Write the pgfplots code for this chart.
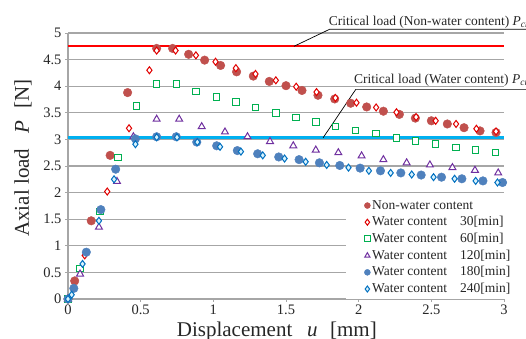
\documentclass[border=0pt]{standalone}
\usepackage{fontspec}
\setmainfont{Liberation Serif}
\usepackage{pgfplots}
\pgfplotsset{compat=1.18}
\definecolor{nwred}{RGB}{192,80,77}
\definecolor{wthirty}{RGB}{225,0,0}
\definecolor{wsixty}{RGB}{0,176,80}
\definecolor{wonetwenty}{RGB}{112,48,160}
\definecolor{woneeighty}{RGB}{79,129,189}
\definecolor{wtwoforty}{RGB}{0,112,192}
\definecolor{critblue}{RGB}{0,176,240}
\definecolor{gridgray}{RGB}{166,166,166}
\newcommand{\sm}{\fontsize{13.5bp}{15bp}\selectfont}
\begin{document}
\begin{tikzpicture}[x=1bp,y=1bp]
\begin{axis}[
  at={(68bp,39bp)}, anchor=south west,
  width=436bp, height=266bp, scale only axis,
  xmin=0, xmax=3, ymin=0, ymax=5,
  xtick={0,0.5,1,1.5,2,2.5,3},
  ytick={0,0.5,1,1.5,2,2.5,3,3.5,4,4.5,5},
  axis lines*=left,
  axis line style={gridgray, line width=1.6bp},
  ymajorgrids=true,
  grid style={gridgray, line width=1.2bp},
  tick align=outside,
  major tick length=3bp,
  tick style={gridgray, line width=1bp},
  tick label style={font=\fontsize{14.5bp}{16bp}\selectfont, text=black!85},
  xticklabel style={yshift=1bp},
  /pgf/number format/assume math mode=true,
  clip=false,
  xlabel={Displacement\hspace{0.7em}\textit{u}\hspace{0.6em}[mm]},
  ylabel={Axial load\hspace{0.7em}\textit{P}\hspace{0.6em}[N]},
  label style={font=\fontsize{21bp}{24bp}\selectfont, text=black!85},
  xlabel style={at={(axis description cs:0.479,-0.122)}, anchor=center},
  ylabel style={at={(axis description cs:-0.103,0.53)}, anchor=center},
  legend style={at={(rel axis cs:0.638,0.391)}, anchor=north west,
    draw=none, fill=white, font=\sm, text=black!85,
    inner xsep=18bp, inner ysep=2bp,
    nodes={text height=10bp, text depth=3bp, inner sep=1.85bp},
    /tikz/every even column/.append style={column sep=0bp}},
  legend cell align=left,
  legend image code/.code={\draw[#1, mark size=3bp] plot coordinates {(0bp,0bp)};},
]
\addplot[red, line width=2bp, forget plot] coordinates {(0,4.75) (3,4.75)};
\addplot[critblue, line width=3bp, forget plot] coordinates {(0,3.03) (3,3.03)};

\addplot[only marks, mark=*, mark size=4.3bp, draw=nwred, fill=nwred] coordinates {
(0,0)(0.046,0.34)(0.16,1.47)(0.29,2.70)(0.41,3.88)(0.61,4.71)(0.72,4.71)(0.83,4.60)(0.94,4.49)(1.05,4.39)(1.16,4.27)(1.275,4.19)(1.385,4.09)(1.50,4.01)(1.61,3.92)(1.72,3.83)(1.835,3.76)(1.945,3.68)(2.055,3.61)(2.17,3.53)(2.28,3.47)(2.39,3.40)(2.50,3.35)(2.61,3.29)(2.725,3.22)(2.835,3.16)(2.945,3.13)};
\addlegendentry{Non-water content}

\addplot[only marks, mark=diamond*, mark size=3.5bp, draw=wthirty, fill=white, line width=1bp] coordinates {
(0,0)(0.115,0.82)(0.27,2.02)(0.42,3.21)(0.56,4.30)(0.61,4.67)(0.74,4.67)(0.88,4.58)(1.015,4.46)(1.155,4.34)(1.29,4.23)(1.43,4.11)(1.57,3.99)(1.71,3.89)(1.84,3.78)(1.985,3.69)(2.12,3.60)(2.26,3.51)(2.395,3.42)(2.53,3.35)(2.67,3.29)(2.81,3.20)(2.945,3.15)};
\addlegendentry{\makebox[88bp][l]{Water content}30[min]}

\addplot[only marks, mark=square*, mark size=3.2bp, draw=wsixty, fill=white, line width=1bp] coordinates {
(0,0)(0.083,0.57)(0.22,1.64)(0.345,2.66)(0.47,3.63)(0.61,4.04)(0.745,4.04)(0.88,3.90)(1.02,3.80)(1.155,3.70)(1.29,3.60)(1.43,3.50)(1.57,3.41)(1.705,3.33)(1.84,3.24)(1.98,3.17)(2.12,3.11)(2.26,3.03)(2.39,2.97)(2.53,2.91)(2.67,2.85)(2.805,2.80)(2.94,2.75)};
\addlegendentry{\makebox[88bp][l]{Water content}60[min]}

\addplot[only marks, mark=triangle*, mark size=4bp, draw=wonetwenty, fill=white, line width=1bp] coordinates {
(0,0)(0.083,0.47)(0.213,1.35)(0.337,2.21)(0.45,3.05)(0.61,3.38)(0.765,3.38)(0.92,3.24)(1.08,3.14)(1.235,3.05)(1.39,2.96)(1.55,2.88)(1.705,2.80)(1.86,2.75)(2.02,2.69)(2.17,2.62)(2.33,2.56)(2.49,2.52)(2.645,2.47)(2.80,2.42)(2.96,2.37)};
\addlegendentry{\makebox[88bp][l]{Water content}120[min]}

\addplot[only marks, mark=*, mark size=4.3bp, draw=woneeighty, fill=woneeighty] coordinates {
(0,0)(0.04,0.20)(0.126,0.88)(0.226,1.68)(0.328,2.44)(0.464,3.01)(0.61,3.05)(0.745,3.05)(0.886,2.95)(1.023,2.88)(1.165,2.79)(1.305,2.73)(1.45,2.67)(1.59,2.62)(1.73,2.56)(1.87,2.51)(2.01,2.46)(2.15,2.41)(2.29,2.37)(2.43,2.33)(2.57,2.29)(2.71,2.26)(2.855,2.22)(2.99,2.19)};
\addlegendentry{\makebox[88bp][l]{Water content}180[min]}

\addplot[only marks, mark=diamond*, mark size=3.5bp, draw=wtwoforty, fill=cyan!15, line width=1bp] coordinates {
(0,0)(0.025,0.08)(0.10,0.66)(0.213,1.47)(0.317,2.25)(0.464,2.91)(0.61,3.04)(0.75,3.04)(0.89,2.95)(1.046,2.86)(1.19,2.77)(1.34,2.70)(1.49,2.64)(1.635,2.58)(1.78,2.52)(1.93,2.47)(2.07,2.41)(2.22,2.37)(2.365,2.34)(2.515,2.29)(2.66,2.26)(2.805,2.22)(2.955,2.19)};
\addlegendentry{\makebox[88bp][l]{Water content}240[min]}

\draw[black, line width=0.7bp] (axis cs:1.555,4.75) -- (axis cs:1.80,5.07) -- (axis cs:3.3,5.07);
\node[anchor=base west, inner sep=0pt, font=\sm, text=black!85] at (axis cs:1.794,5.15) {Critical load (Non-water content) \textit{P}\textsubscript{\textit{cr}}};
\draw[black, line width=0.7bp] (axis cs:1.755,3.03) -- (axis cs:1.98,3.94) -- (axis cs:3.3,3.94);
\node[anchor=base west, inner sep=0pt, font=\sm, text=black!85] at (axis cs:1.968,4.06) {Critical load (Water content) \textit{P}\textsubscript{\textit{cr}}};
\end{axis}
\pgfresetboundingbox
\useasboundingbox (0,0) rectangle (526,338);
\end{tikzpicture}
\end{document}
